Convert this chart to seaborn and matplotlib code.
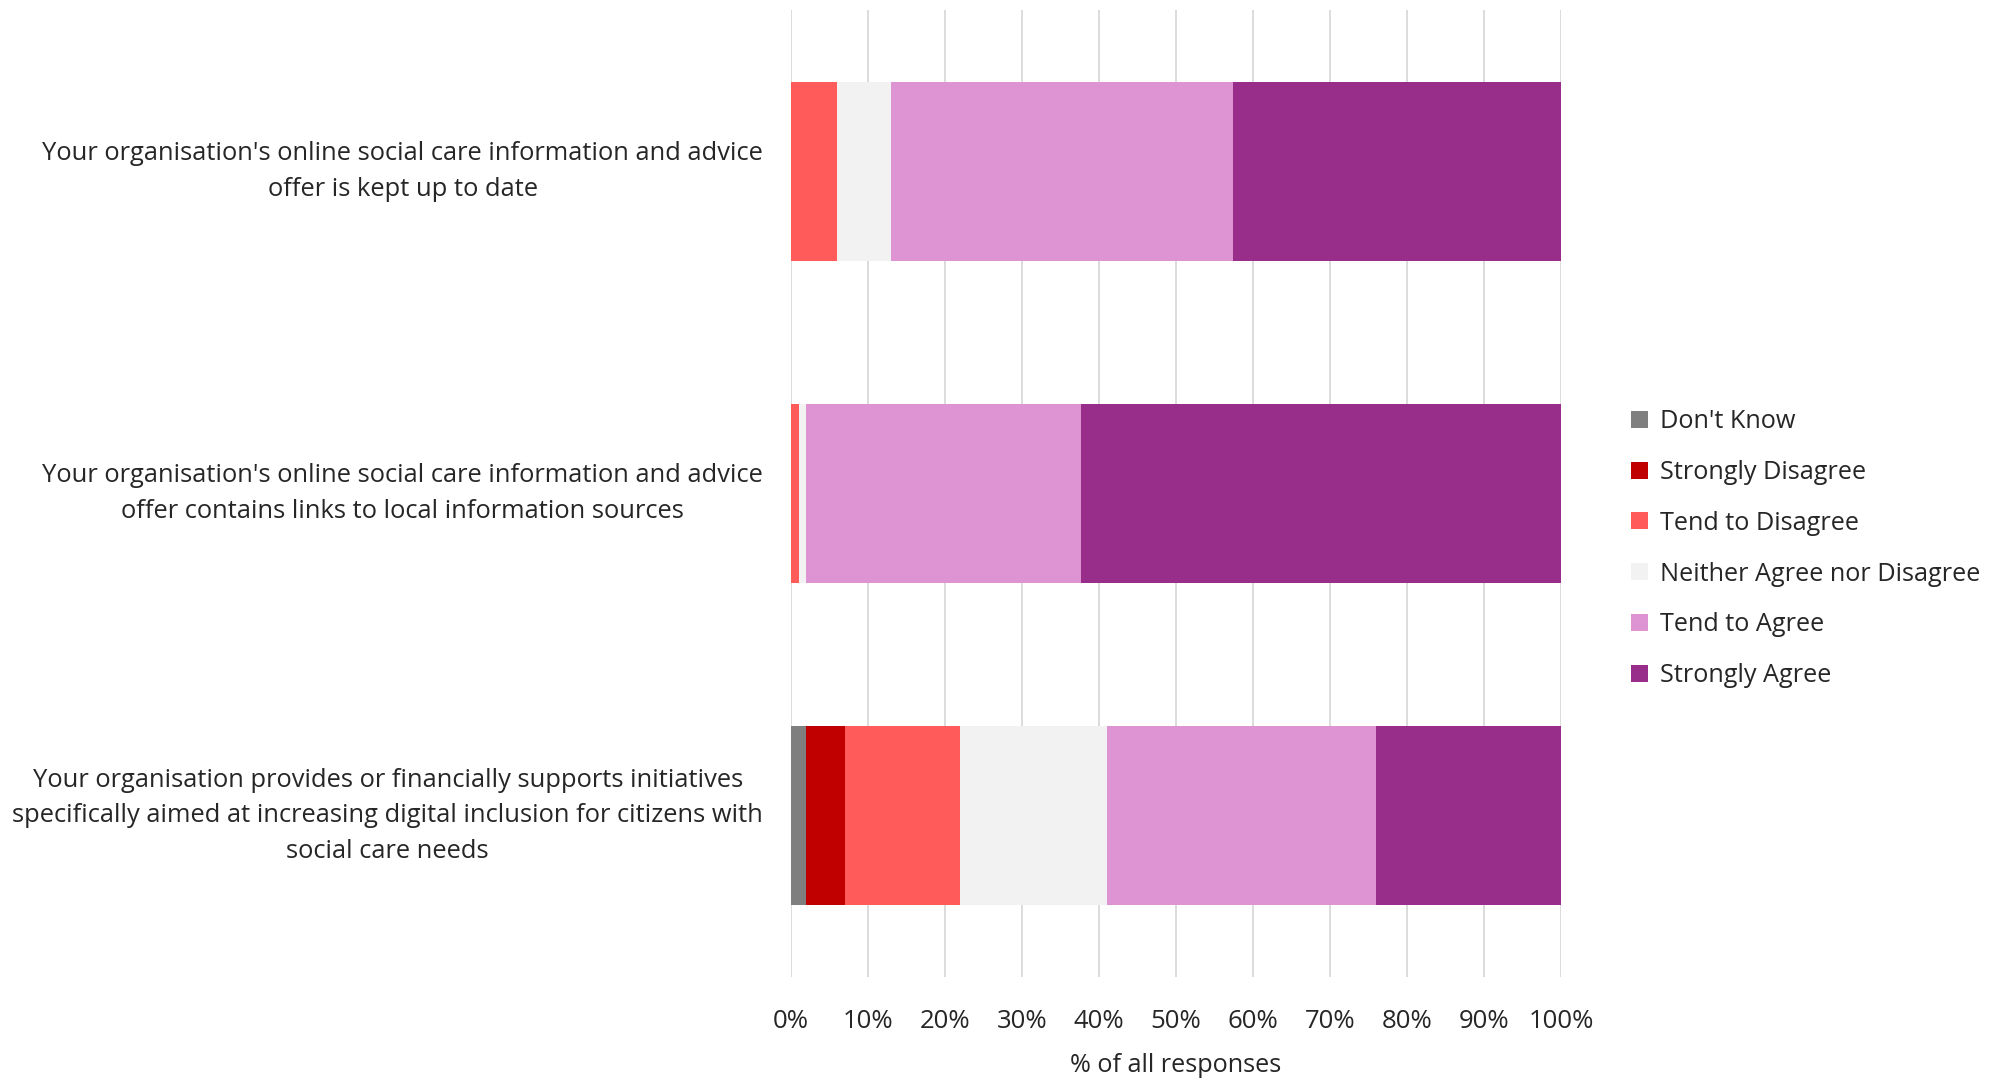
import matplotlib
matplotlib.use("Agg")
import matplotlib.pyplot as plt
import seaborn as sns
import pandas as pd
import numpy as np
from matplotlib.patches import Patch

statements = [
    "Your organisation's online social care information and advice\noffer is kept up to date",
    "Your organisation's online social care information and advice\noffer contains links to local information sources",
    "Your organisation provides or financially supports initiatives\nspecifically aimed at increasing digital inclusion for citizens with\nsocial care needs",
]
responses = ["Don't Know", "Strongly Disagree", "Tend to Disagree",
             "Neither Agree nor Disagree", "Tend to Agree", "Strongly Agree"]

dont_know = [0.0, 0.0, 2.0]
strongly_disagree = [0.0, 0.0, 5.0]
tend_disagree = [6.0, 1.0, 15.0]
neither = [7.0, 1.0, 19.0]
tend_agree = [44.4, 35.6, 35.0]
strongly_agree = [42.6, 62.4, 24.0]

colors = ["#7f7f7f", "#c00000", "#ff5b5b", "#f2f2f2", "#de94d3", "#982e8a"]

sns.set_theme(style="white")
plt.rcParams["font.family"] = ["Open Sans", "DejaVu Sans"]

df = pd.DataFrame({
    "statement": statements,
    responses[0]: dont_know,
    responses[1]: strongly_disagree,
    responses[2]: tend_disagree,
    responses[3]: neither,
    responses[4]: tend_agree,
    responses[5]: strongly_agree,
})
cum = df[responses].cumsum(axis=1)

fig = plt.figure(figsize=(19.89, 10.78), dpi=100)
ax = fig.add_axes([0.3977, 0.0937, 0.3871, 0.897])

# Stacked bars: draw cumulative totals from the right-most category down
for resp, col in reversed(list(zip(responses, colors))):
    sns.barplot(x=cum[resp], y=df["statement"], orient="h", color=col,
                width=0.555, ax=ax, saturation=1, linewidth=0)

ax.set_xlim(0, 100)
ax.set_ylim(2.5, -0.5)
ax.set_xticks(np.arange(0, 101, 10))
ax.set_xticklabels([f"{v}%" for v in range(0, 101, 10)], fontsize=18.5)
ax.xaxis.grid(True, color="#d9d9d9", linewidth=1.3)
ax.set_axisbelow(True)
for s in ax.spines.values():
    s.set_visible(False)
ax.tick_params(axis="both", length=0)
ax.tick_params(axis="x", pad=23)
ax.tick_params(axis="y", pad=20)
ax.set_ylabel("")
ax.set_xlabel("% of all responses", fontsize=18.2, labelpad=14)
for lab in ax.get_yticklabels():
    lab.set_fontsize(18.4)
    lab.set_multialignment("center")
    lab.set_linespacing(1.56)
    lab.set_verticalalignment("center")

handles = [Patch(facecolor=c, edgecolor="none", label=r) for r, c in zip(responses, colors)]
fig.legend(handles=handles, loc="center left", bbox_to_anchor=(0.8137, 0.491),
           frameon=False, fontsize=18.2, handlelength=0.66, handleheight=0.66,
           handletextpad=0.5, labelspacing=1.02, borderpad=0)

fig.savefig("out.png", dpi=100)
